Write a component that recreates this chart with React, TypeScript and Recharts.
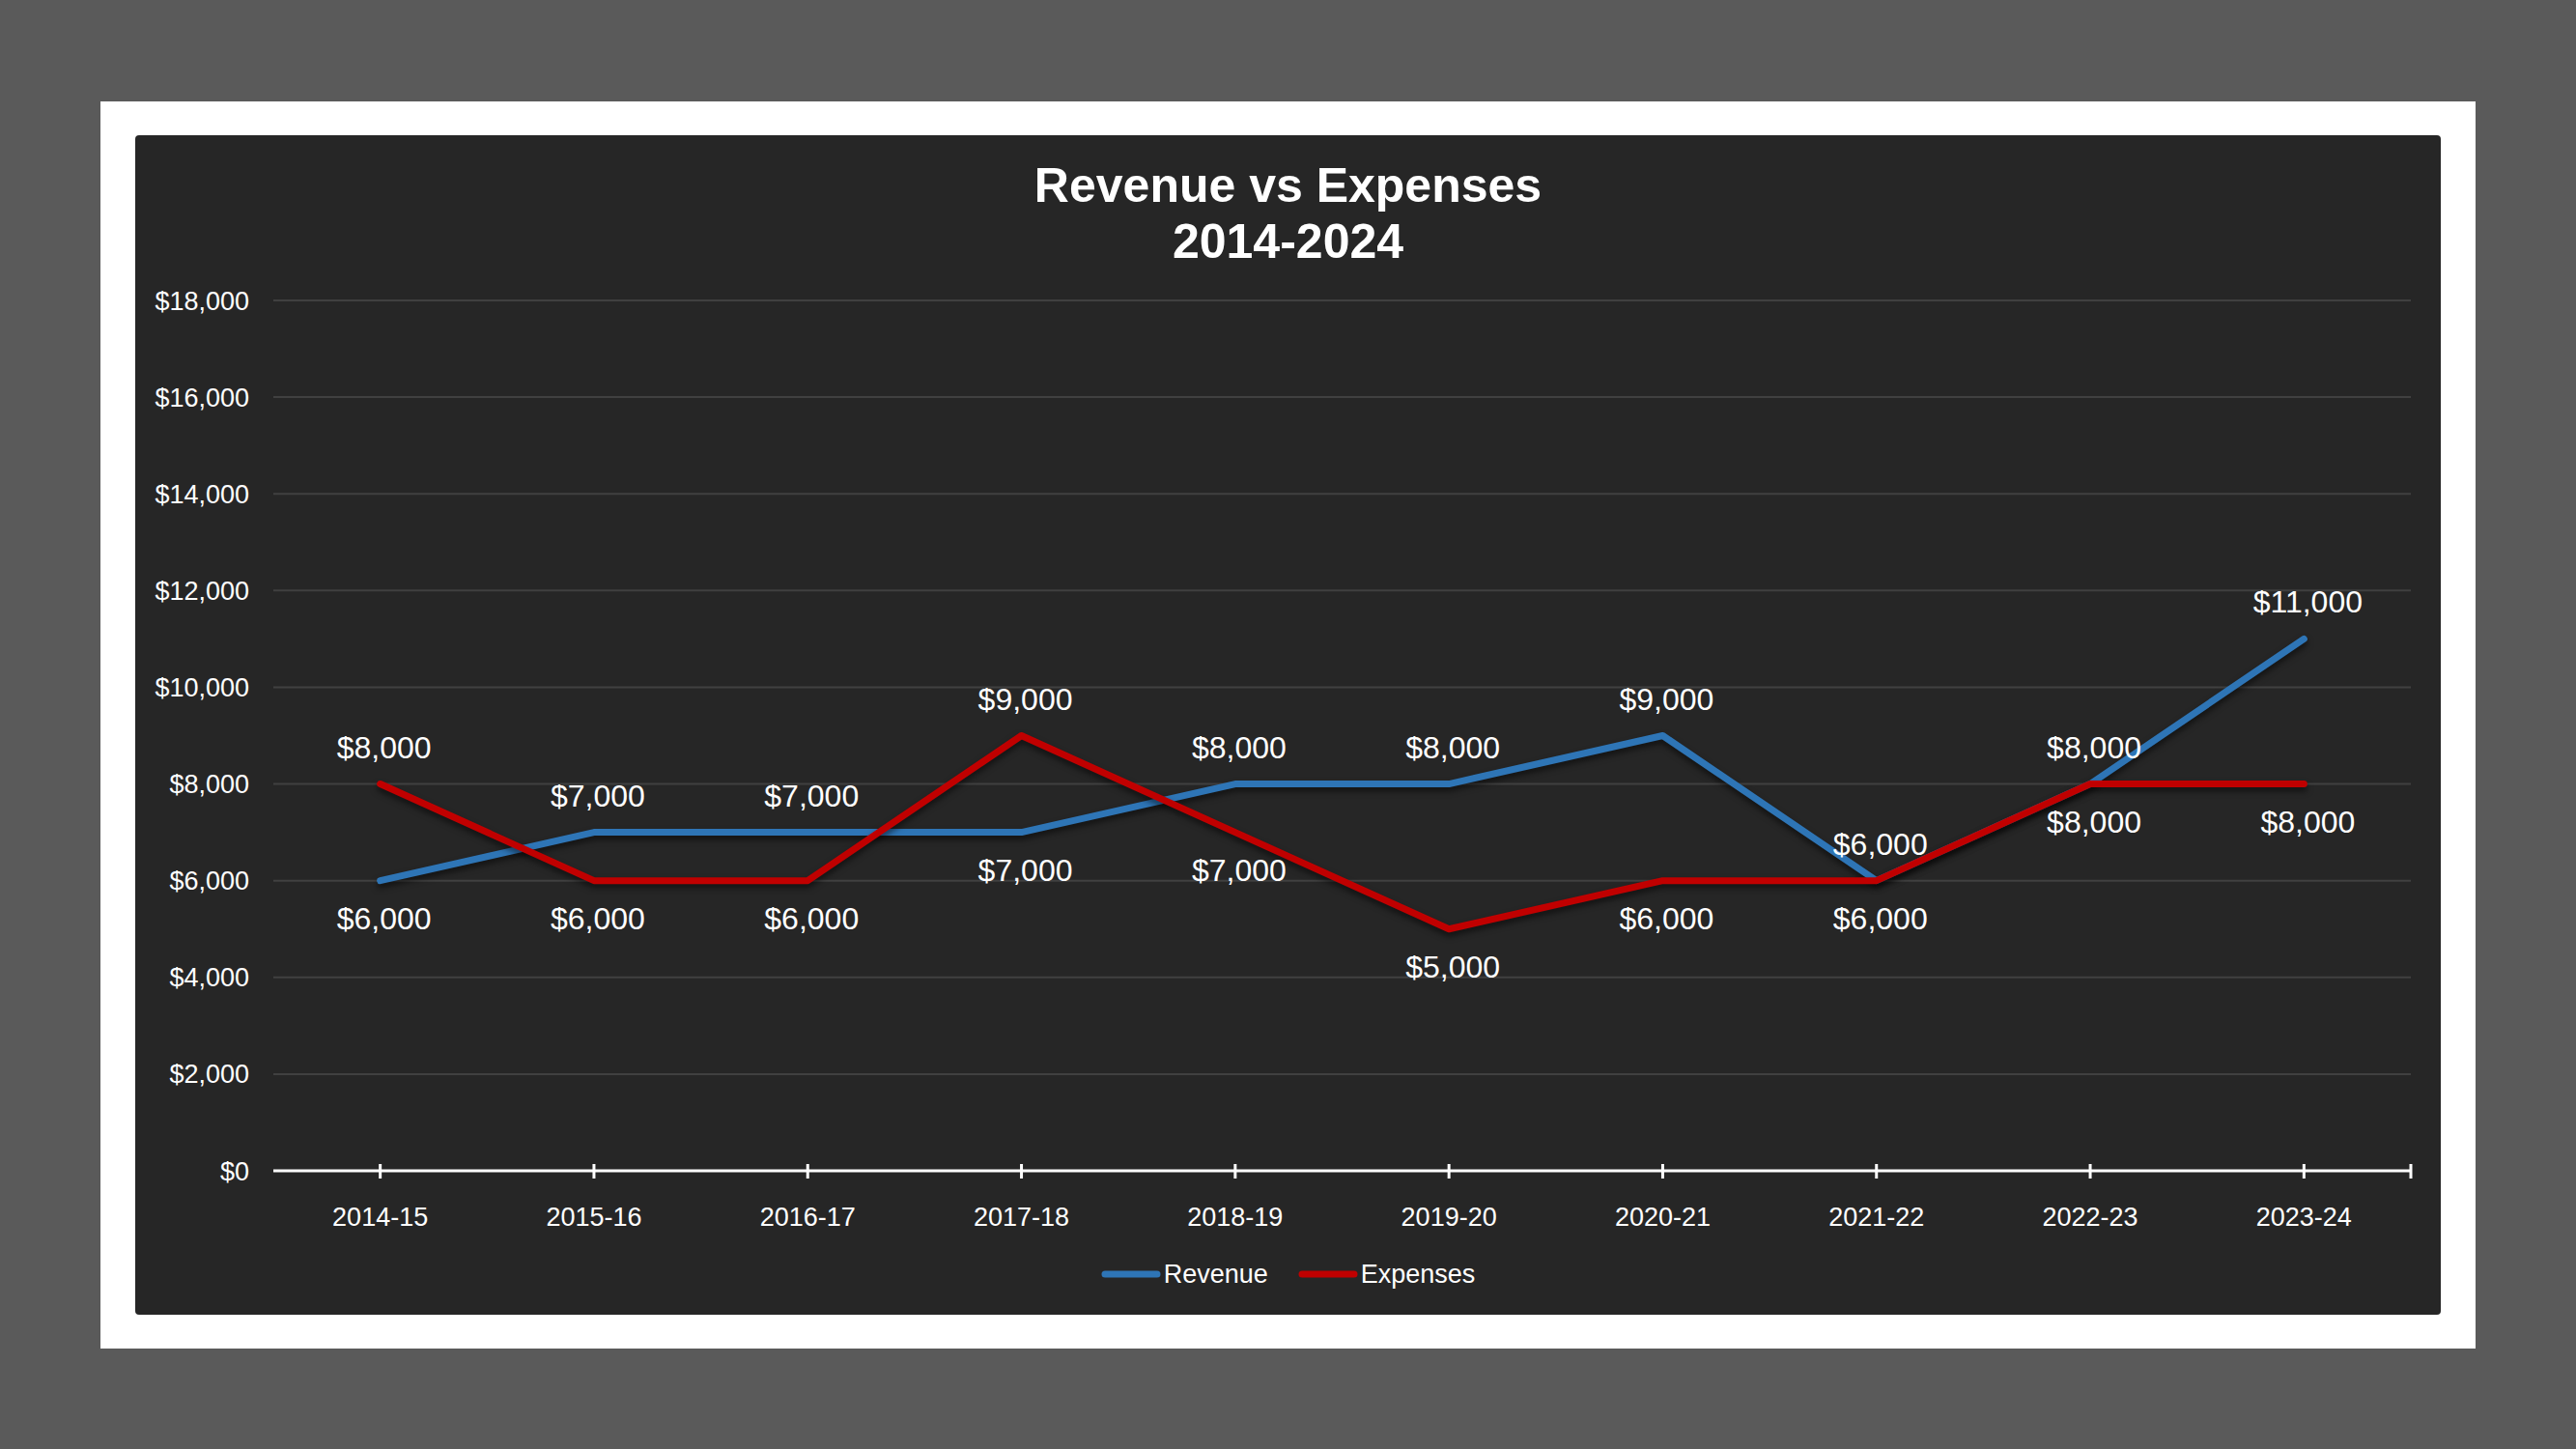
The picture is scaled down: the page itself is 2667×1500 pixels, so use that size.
import React from "react";
import { LineChart, Line, XAxis, YAxis, CartesianGrid, Legend, LabelList } from "recharts";

const years = ["2014-15", "2015-16", "2016-17", "2017-18", "2018-19", "2019-20", "2020-21", "2021-22", "2022-23", "2023-24"];
const revenue = [6000, 7000, 7000, 7000, 8000, 8000, 9000, 6000, 8000, 11000];
const expenses = [8000, 6000, 6000, 9000, 7000, 5000, 6000, 6000, 8000, 8000];
const yTicks = [0, 2000, 4000, 6000, 8000, 10000, 12000, 14000, 16000, 18000];

// which side of the point each data label sits on
const revenueLabelSide = ["bottom", "top", "top", "bottom", "top", "top", "top", "top", "top", "top"];
const expensesLabelSide = ["top", "bottom", "bottom", "top", "bottom", "bottom", "bottom", "bottom", "bottom", "bottom"];

const data = years.map((year, i) => ({ year, revenue: revenue[i], expenses: expenses[i] }));

const FONT = "'Liberation Sans', Arial, sans-serif";
const BLUE = "#2E75B6";
const RED = "#C00000";
const PANEL_W = 2387;
const PANEL_H = 1221;
const PLOT_W = 2213;
const HALF_BAND = PLOT_W / years.length / 2;

const money = (v: number) => "$" + v.toLocaleString("en-US");

const XTick = (props: any) => {
  const { x, y, payload, index } = props;
  const axisY = y - 8;
  return (
    <g>
      <line x1={x} x2={x} y1={axisY - 7} y2={axisY + 8} stroke="#fff" strokeWidth={3} />
      {index === years.length - 1 && (
        <line x1={x + HALF_BAND} x2={x + HALF_BAND} y1={axisY - 7} y2={axisY + 8} stroke="#fff" strokeWidth={3} />
      )}
      <text x={x} y={axisY + 48} textAnchor="middle" dominantBaseline="central" fill="#fff" fontSize={27} fontFamily={FONT}>
        {payload.value}
      </text>
    </g>
  );
};

const pointLabel = (sides: string[]) => (props: any) => {
  const { x, y, value, index } = props;
  const up = sides[index] === "top";
  return (
    <text
      x={x + 4}
      y={up ? y - 38 : y + 39}
      textAnchor="middle"
      dominantBaseline="central"
      fill="#fff"
      fontSize={32}
      fontFamily={FONT}
    >
      {money(value)}
    </text>
  );
};

const LegendContent = () => {
  const items = [
    { name: "Revenue", color: BLUE },
    { name: "Expenses", color: RED },
  ];
  return (
    <div style={{ display: "flex", justifyContent: "center", alignItems: "center", gap: 31, height: 32 }}>
      {items.map((it) => (
        <div key={it.name} style={{ display: "flex", alignItems: "center" }}>
          <svg width={62} height={12}>
            <line x1={4} x2={58} y1={6} y2={6} stroke={it.color} strokeWidth={7} strokeLinecap="round" />
          </svg>
          <span style={{ color: "#fff", fontSize: 27, fontFamily: FONT, marginLeft: 3 }}>{it.name}</span>
        </div>
      ))}
    </div>
  );
};

export default function App() {
  return (
    <div style={{ position: "absolute", left: 0, top: 0, width: 2667, height: 1500, background: "#5a5a5a" }}>
      <style>{`.shadowed path { filter: drop-shadow(0px 4px 3px rgba(0,0,0,0.55)); }`}</style>
      <div style={{ position: "absolute", left: 104, top: 105, width: 2459, height: 1291, background: "#ffffff" }} />
      <div
        style={{
          position: "absolute",
          left: 140,
          top: 140,
          width: PANEL_W,
          height: PANEL_H,
          background: "#262626",
          borderRadius: 4,
        }}
      >
        <div
          style={{
            position: "absolute",
            left: 0,
            top: 23,
            width: PANEL_W,
            textAlign: "center",
            color: "#fff",
            fontFamily: FONT,
            fontWeight: "bold",
            fontSize: 50,
            lineHeight: "58px",
          }}
        >
          <div>Revenue vs Expenses</div>
          <div>2014-2024</div>
        </div>
        <div style={{ position: "absolute", left: 0, top: 0 }}>
          <LineChart width={PANEL_W} height={PANEL_H} data={data} margin={{ top: 171, right: 31, left: 0, bottom: 0 }}>
            <CartesianGrid vertical={false} stroke="#404040" strokeWidth={2} />
            <XAxis
              dataKey="year"
              height={149}
              padding={{ left: HALF_BAND, right: HALF_BAND }}
              axisLine={{ stroke: "#ffffff", strokeWidth: 3 }}
              tickLine={false}
              tickSize={8}
              tickMargin={0}
              tick={<XTick />}
              interval={0}
            />
            <YAxis
              width={143}
              domain={[0, 18000]}
              ticks={yTicks}
              axisLine={false}
              tickLine={false}
              tickSize={0}
              tickMargin={25}
              tickFormatter={money}
              tick={{ fill: "#ffffff", fontSize: 27, fontFamily: FONT }}
            />
            <Legend
              verticalAlign="middle"
              align="center"
              content={<LegendContent />}
              wrapperStyle={{ top: 1163, left: 0, width: PANEL_W }}
            />
            <Line
              className="shadowed"
              dataKey="revenue"
              name="Revenue"
              stroke={BLUE}
              strokeWidth={7}
              strokeLinecap="round"
              strokeLinejoin="round"
              dot={false}
              isAnimationActive={false}
            >
              <LabelList dataKey="revenue" content={pointLabel(revenueLabelSide)} />
            </Line>
            <Line
              className="shadowed"
              dataKey="expenses"
              name="Expenses"
              stroke={RED}
              strokeWidth={7}
              strokeLinecap="round"
              strokeLinejoin="round"
              dot={false}
              isAnimationActive={false}
            >
              <LabelList dataKey="expenses" content={pointLabel(expensesLabelSide)} />
            </Line>
          </LineChart>
        </div>
      </div>
    </div>
  );
}
